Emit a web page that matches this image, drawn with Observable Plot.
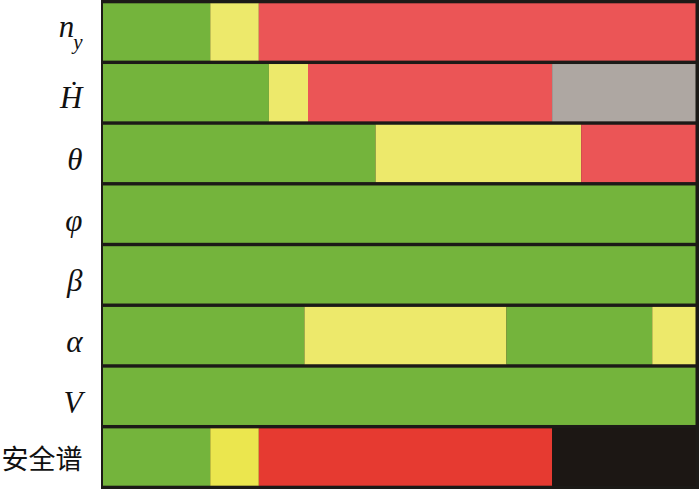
<!DOCTYPE html>
<html>
<head>
<meta charset="utf-8">
<script src="https://cdn.jsdelivr.net/npm/d3@7"></script>
<script src="https://cdn.jsdelivr.net/npm/@observablehq/plot@0.6"></script>
<style>
  html, body { margin: 0; padding: 0; background: #fff; }
</style>
</head>
<body>
<div id="chart"></div>
<script>
// Rows (top to bottom)
const rows = ["n_y", "Hdot", "θ", "φ", "β", "α", "V", "安全谱"];
const rowLabels = ["n_y", "Ḣ", "θ", "φ", "β", "α", "V", "安全谱"];

// Segment end positions (percent of flight time) for each row
const segEnds = [
  [18.1, 26.3, 100],
  [28.0, 34.6, 75.8, 100],
  [46.0, 80.7, 100],
  [100],
  [100],
  [34.0, 68.1, 92.7, 100],
  [100],
  [18.1, 26.3, 75.8, 100]
];

// Segment status levels for each row
const segLevels = [
  ["safe", "warn", "danger"],
  ["safe", "warn", "danger", "none"],
  ["safe", "warn", "danger"],
  ["safe"],
  ["safe"],
  ["safe", "warn", "safe", "warn"],
  ["safe"],
  ["safe", "spec-warn", "spec-danger", "spec-fatal"]
];

const levelDomain = ["safe", "warn", "danger", "none", "spec-warn", "spec-danger", "spec-fatal"];
const levelColors = ["#74b43c", "#ede96b", "#eb5556", "#aea7a2", "#ebe64e", "#e63a31", "#1c1714"];

const data = rows.flatMap((r, i) =>
  segEnds[i].map((e, j) => ({
    row: r,
    x1: j ? segEnds[i][j - 1] : 0,
    x2: e,
    level: segLevels[i][j]
  }))
);

const chart = Plot.plot({
  width: 700,
  height: 489,
  marginLeft: 101,
  marginRight: 2,
  marginTop: 0,
  marginBottom: 0,
  style: { fontFamily: "'Liberation Serif', 'Times New Roman', serif", background: "#fff" },
  x: { domain: [0, 100], range: [103, 695.5], axis: null },
  y: { domain: rows, range: [3.3, 485.7], paddingInner: 0.056, paddingOuter: 0, round: false, axis: null },
  color: { domain: levelDomain, range: levelColors },
  marks: [
    Plot.frame({ fill: "#1c1a17", stroke: "#1c1a17" }),
    Plot.barX(data, { x1: "x1", x2: "x2", y: "row", fill: "level" }),
    Plot.axisY({
      tickSize: 0,
      tickPadding: 19,
      fontSize: 31,
      fontStyle: "italic",
      dy: 6,
      label: null,
      fill: "#111",
      tickFormat: (d) => rowLabels[rows.indexOf(d)]
    })
  ]
});

// Post-process tick labels for subscript and CJK styling
d3.select(chart).selectAll("text").each(function () {
  const t = d3.select(this);
  const s = t.text();
  if (s === "n_y") {
    t.text("");
    t.append("tspan").attr("dy", -11).text("n");
    t.append("tspan").attr("dy", 12).attr("dx", -1).attr("font-size", 21).text("y");
  } else if (s === "安全谱") {
    t.attr("font-family", "'Noto Sans CJK SC', sans-serif")
     .attr("font-style", "normal")
     .attr("font-size", 27);
    t.text("");
    t.append("tspan").attr("dy", -3).text("安全谱");
  } else if (s === "Ḣ") {
    t.text("");
    t.append("tspan").attr("dy", -1).text("Ḣ");
  }
});

document.getElementById("chart").appendChild(chart);
</script>
</body>
</html>
